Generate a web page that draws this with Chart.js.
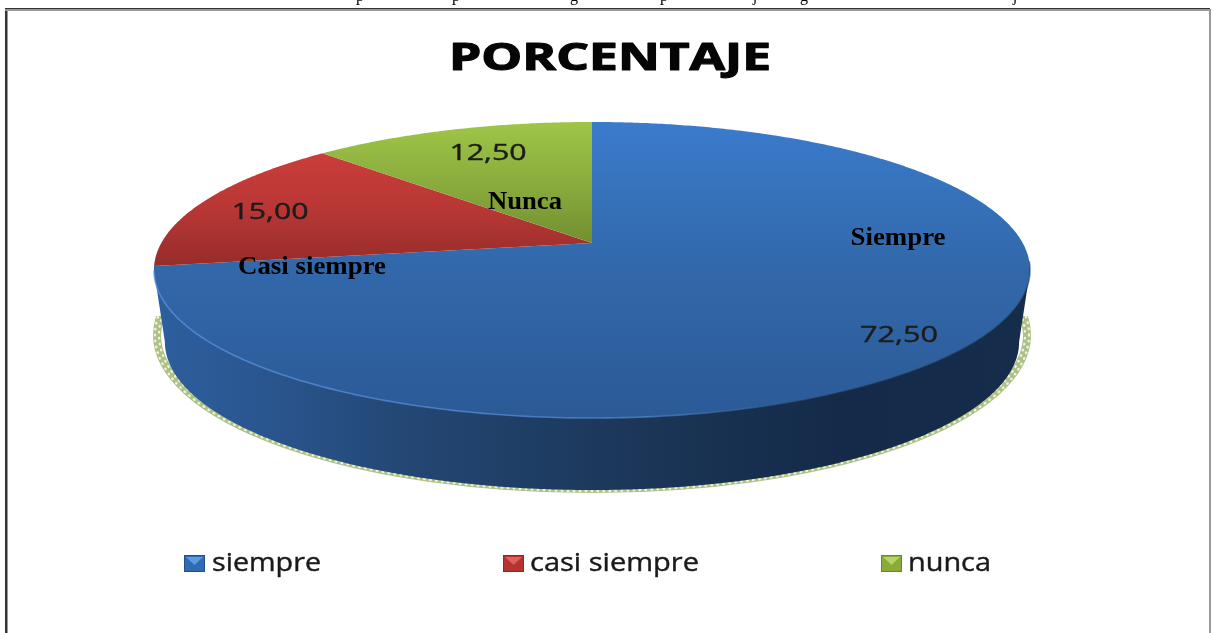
<!DOCTYPE html>
<html lang="es">
<head>
<meta charset="utf-8">
<title>PORCENTAJE</title>
<script src="https://cdn.jsdelivr.net/npm/chart.js@4"></script>
<style>html,body{margin:0;padding:0;background:#fff;overflow:hidden}canvas{display:block}</style>
</head>
<body>
<canvas id="c" width="1213" height="633"></canvas>
<script>
const chartTitle = "PORCENTAJE";
const categories = ["siempre", "casi siempre", "nunca"];
const values = [72.5, 15, 12.5];
const valueLabels = ["72,50", "15,00", "12,50"];
const sliceNames = ["Siempre", "Casi siempre", "Nunca"];
const clippedHeaderGlyphs = ["p", "p", "g", "p", "j", "g", "j"];

const CX = 592, APEX = 243, A = 430.7, B = 143.1, P = 0.1824;
const DEPTH = 72, BASE = 0.975;

function proj(a, s, dy) {
  const u = Math.cos(a), v = Math.sin(a), d = 1 - P * v;
  return [CX + A * (s || 1) * u / d, APEX + (dy || 0) + B * v / d];
}
function tracePie(ctx, start, end) {
  const n = Math.max(8, Math.ceil((end - start) * 120));
  ctx.beginPath();
  ctx.moveTo(CX, APEX);
  for (let i = 0; i <= n; i++) {
    const p = proj(start + (end - start) * i / n);
    ctx.lineTo(p[0], p[1]);
  }
  ctx.closePath();
}
function vGrad(ctx, y0, y1, stops) {
  const g = ctx.createLinearGradient(0, y0, 0, y1);
  stops.forEach((c, i) => g.addColorStop(i / (stops.length - 1), c));
  return g;
}
function fitText(ctx, text, cx, base, font, width, color, bold) {
  ctx.save();
  ctx.font = font;
  ctx.fillStyle = color;
  ctx.textAlign = "center";
  ctx.textBaseline = "alphabetic";
  const k = width / ctx.measureText(text).width;
  ctx.translate(cx, base);
  ctx.scale(k, 1);
  ctx.fillText(text, 0, 0);
  if (bold) {
    ctx.strokeStyle = color;
    ctx.lineWidth = bold;
    ctx.lineJoin = "round";
    ctx.strokeText(text, 0, 0);
  }
  ctx.restore();
}

const pie3d = {
  id: "pie3d",
  beforeDatasetsDraw(chart) {
    const ctx = chart.ctx, arcs = chart.getDatasetMeta(0).data;
    ctx.save();

    // dotted shadow halo
    ctx.save();
    ctx.beginPath();
    ctx.rect(0, 316, chart.width, 200);
    ctx.clip();
    ctx.beginPath();
    ctx.ellipse(CX, 335, 435, 154, 0, 0, Math.PI * 2);
    ctx.lineWidth = 8;
    ctx.strokeStyle = "#adc184";
    ctx.stroke();
    ctx.lineCap = "round";
    ctx.lineWidth = 2.4;
    ctx.strokeStyle = "#eef2e4";
    ctx.setLineDash([0.5, 5.5]);
    ctx.beginPath();
    ctx.ellipse(CX, 335, 437, 156, 0, 0, Math.PI * 2);
    ctx.stroke();
    ctx.lineDashOffset = 3;
    ctx.beginPath();
    ctx.ellipse(CX, 335, 433, 152, 0, 0, Math.PI * 2);
    ctx.stroke();
    ctx.setLineDash([]);
    ctx.restore();

    // side wall
    const wall = ctx.createLinearGradient(155, 0, 1030, 0);
    [[0, "#2d5f9e"], [0.12, "#2a5690"], [0.3, "#234672"], [0.55, "#1b3658"], [0.78, "#142a48"], [1, "#152c4b"]]
      .forEach(s => wall.addColorStop(s[0], s[1]));
    ctx.fillStyle = wall;
    const ext = Math.asin(P);
    ctx.beginPath();
    const rt = proj(ext);
    ctx.moveTo(rt[0], rt[1]);
    for (let i = 0; i <= 360; i++) {
      const p = proj(ext + (Math.PI - 2 * ext) * i / 360, BASE, DEPTH);
      ctx.lineTo(p[0], p[1]);
    }
    const lf = proj(Math.PI - ext);
    ctx.lineTo(lf[0], lf[1]);
    ctx.closePath();
    ctx.fill();

    // top faces: angles come from the library's arc elements
    const fills = [
      vGrad(ctx, 122, 418, ["#3a7bcc", "#3268aa", "#2b5a96"]),
      vGrad(ctx, 150, 268, ["#cc3e3b", "#b83735", "#952c29"]),
      vGrad(ctx, 122, 243, ["#9fc647", "#8aac3d", "#728f30"])
    ];
    arcs.forEach((el, i) => {
      const st = el.getProps(["startAngle", "endAngle"], true);
      tracePie(ctx, st.startAngle, st.endAngle);
      ctx.fillStyle = fills[i];
      ctx.fill();
    });

    // light rim along the front edge
    const rim = ctx.createLinearGradient(155, 0, 1030, 0);
    rim.addColorStop(0, "rgba(90,150,225,0.7)");
    rim.addColorStop(0.55, "rgba(90,150,225,0.6)");
    rim.addColorStop(0.8, "rgba(40,70,110,0.4)");
    rim.addColorStop(1, "rgba(25,50,85,0.5)");
    ctx.beginPath();
    for (let i = 0; i <= 200; i++) {
      const p = proj(Math.PI * 0.9 * i / 200 + 0.04 * Math.PI);
      i ? ctx.lineTo(p[0], p[1]) : ctx.moveTo(p[0], p[1]);
    }
    ctx.strokeStyle = rim;
    ctx.lineWidth = 1.6;
    ctx.stroke();
    ctx.restore();
    return false;
  },
  afterDraw(chart) {
    const ctx = chart.ctx;

    // clipped line of text above the frame
    ctx.save();
    ctx.font = "16px 'Liberation Serif'";
    ctx.fillStyle = "#000";
    ctx.textAlign = "center";
    ctx.textBaseline = "alphabetic";
    [360, 456, 574, 664, 755, 804, 1015].forEach((x, i) => ctx.fillText(clippedHeaderGlyphs[i], x, 1));
    ctx.restore();

    // frame
    ctx.save();
    ctx.fillStyle = "#333";
    ctx.fillRect(5, 8, 1205, 1);
    ctx.fillRect(5, 8, 2, 625);
    ctx.fillStyle = "#999";
    ctx.fillRect(5, 9, 1205, 2);
    ctx.fillRect(7, 9, 1, 624);
    ctx.fillRect(1209, 9, 2, 624);
    ctx.restore();

    // title
    fitText(ctx, chartTitle, 610, 70, "bold 38px 'Open Sans'", 322, "#050505", 1.2);

    // value labels
    const vf = "21px 'Open Sans'";
    fitText(ctx, valueLabels[0], 899, 342, vf, 78, "#1c1c1c", 0.4);
    fitText(ctx, valueLabels[1], 270, 219, vf, 77, "#1c1c1c", 0.4);
    fitText(ctx, valueLabels[2], 488, 160, vf, 77, "#1c1c1c", 0.4);

    // slice names
    const nf = "bold 26px 'Liberation Serif'";
    fitText(ctx, sliceNames[0], 898, 245, nf, 95, "#000");
    fitText(ctx, sliceNames[1], 312, 274, nf, 148, "#000");
    fitText(ctx, sliceNames[2], 525, 209, nf, 74, "#000");

    // legend
    const sw = [
      [184, "#2f6bb3", "#5d9be0", "#234f86"],
      [503, "#b53431", "#e0605c", "#8c2826"],
      [881, "#8aaa3a", "#b5d65e", "#6b852c"]
    ];
    const textBox = [[212, 109], [530, 169], [908, 83]];
    categories.forEach((cat, i) => {
      const [x, c, hi, dk] = sw[i];
      ctx.fillStyle = dk;
      ctx.fillRect(x, 555, 21, 17);
      ctx.fillStyle = c;
      ctx.fillRect(x + 1, 556, 19, 15);
      ctx.fillStyle = hi;
      ctx.beginPath();
      ctx.moveTo(x + 2, 557);
      ctx.lineTo(x + 19, 557);
      ctx.lineTo(x + 10.5, 565);
      ctx.closePath();
      ctx.fill();
      fitText(ctx, cat, textBox[i][0] + textBox[i][1] / 2, 571, "25px 'Open Sans'", textBox[i][1], "#1a1a1a", 0.4);
    });
  }
};

new Chart(document.getElementById("c"), {
  type: "pie",
  data: {
    labels: categories,
    datasets: [{ label: chartTitle, data: values, backgroundColor: ["#3268aa", "#b83735", "#8aac3d"], borderWidth: 0 }]
  },
  options: {
    responsive: false,
    animation: false,
    events: [],
    plugins: { legend: { display: false }, title: { display: false }, tooltip: { enabled: false } }
  },
  plugins: [pie3d]
});
</script>
</body>
</html>
